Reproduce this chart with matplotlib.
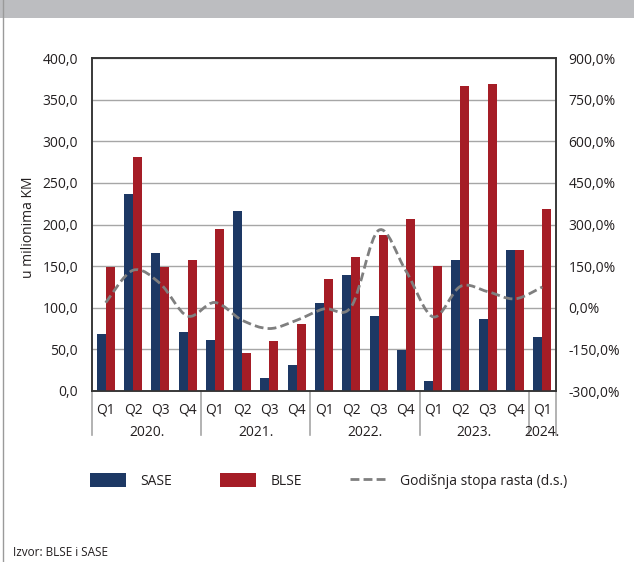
import numpy as np
import matplotlib
matplotlib.use("Agg")
import matplotlib.pyplot as plt
from matplotlib.path import Path
from matplotlib.patches import PathPatch, Patch, Rectangle
from matplotlib.lines import Line2D
from matplotlib.ticker import FuncFormatter, MultipleLocator

plt.rcParams['font.family'] = ['Open Sans', 'DejaVu Sans']

# Data
quarters = ['Q1', 'Q2', 'Q3', 'Q4'] * 4 + ['Q1']
years = ['2020.', '2021.', '2022.', '2023.', '2024.']
year_sizes = [4, 4, 4, 4, 1]
sase = [68.5, 237.0, 166.0, 70.5, 61.5, 216.0, 15.5, 31.0, 105.5,
        139.0, 89.5, 49.0, 11.5, 157.0, 86.0, 169.5, 65.0]
blse = [148.5, 281.5, 148.5, 157.0, 194.5, 45.5, 59.5, 80.5, 134.0,
        160.5, 187.0, 206.5, 150.0, 366.5, 368.5, 169.5, 219.0]
growth = [18, 135, 87, -30, 19, -45, -75, -45, -4, 4, 279, 133, -33, 77, 58, 32, 75]

c_sase = '#1d3864'
c_blse = '#a51d26'
c_line = '#7f7f7f'
c_grid = '#a6a6a6'
c_text = '#231f20'
fs = 10
dash = (0, (3.2, 1.5))

fig = plt.figure(figsize=(6.34, 5.62), dpi=100)
W, H = 634, 562

# top grey band and left border
fig.patches.append(Rectangle((0, 1 - 18 / H), 1, 18 / H, transform=fig.transFigure,
                             facecolor='#bcbdc0', edgecolor='none', zorder=0))
fig.lines.append(Line2D([3 / W, 3 / W], [0, 1], transform=fig.transFigure,
                        color='#9a9a9a', lw=1))

ax = fig.add_axes([92 / W, 1 - 391 / H, (556 - 92) / W, (391 - 58) / H])
ax2 = ax.twinx()

x = np.arange(len(sase))
bw = 0.33
ax.bar(x - bw / 2, sase, bw, color=c_sase, zorder=3)
ax.bar(x + bw / 2, blse, bw, color=c_blse, zorder=3)

ax.set_xlim(-0.5, len(sase) - 0.5)
ax.set_ylim(0, 400)
ax.yaxis.set_major_locator(MultipleLocator(50))
ax.yaxis.set_major_formatter(FuncFormatter(lambda v, p: f'{v:.1f}'.replace('.', ',')))
ax.grid(axis='y', color=c_grid, lw=1, zorder=0)
ax.set_axisbelow(True)
ax.tick_params(axis='y', length=0, pad=10, labelsize=fs, labelcolor=c_text)
ax.set_xticks(x)
ax.set_xticklabels(quarters)
ax.tick_params(axis='x', length=0, pad=8, labelsize=fs, labelcolor=c_text)
fig.text(29 / W, 1 - 227 / H, 'u milionima KM', rotation=90, ha='center',
         va='center', fontsize=fs, color=c_text)

ax2.set_ylim(-300, 900)
ax2.yaxis.set_major_locator(MultipleLocator(150))
ax2.yaxis.set_major_formatter(FuncFormatter(lambda v, p: f'{v:.1f}%'.replace('.', ',')))
ax2.tick_params(axis='y', length=0, pad=9, labelsize=fs, labelcolor=c_text)

for a in (ax, ax2):
    for s in a.spines.values():
        s.set_color('#333333')
        s.set_linewidth(1.1)

# smoothed growth line (cubic Bezier, Excel-style smoothing)
pts = np.column_stack([x, growth]).astype(float)
verts = [pts[0]]
codes = [Path.MOVETO]
n = len(pts)
for i in range(n - 1):
    p0 = pts[i - 1] if i > 0 else pts[i]
    p1, p2 = pts[i], pts[i + 1]
    p3 = pts[i + 2] if i + 2 < n else pts[i + 1]
    verts += [p1 + (p2 - p0) / 6, p2 - (p3 - p1) / 6, p2]
    codes += [Path.CURVE4] * 3
ax2.add_patch(PathPatch(Path(verts, codes), fill=False, edgecolor=c_line,
                        lw=2.0, linestyle=dash, zorder=4))

# year group separators and labels
bounds = np.cumsum([0] + year_sizes) - 0.5
trans = ax.get_xaxis_transform()
for b in bounds:
    ax.plot([b, b], [0, -44 / 333], color=c_grid, lw=1.2, transform=trans,
            clip_on=False)
start = 0
for yr, sz in zip(years, year_sizes):
    ax.text(start + (sz - 1) / 2, -41 / 333, yr, transform=trans, ha='center',
            va='center', fontsize=fs, color=c_text)
    start += sz

# legend
handles = [Patch(facecolor=c_sase, label='SASE'),
           Patch(facecolor=c_blse, label='BLSE'),
           Line2D([], [], color=c_line, lw=2.0, linestyle=dash,
                  label='Godišnja stopa rasta (d.s.)')]
fig.legend(handles=handles, loc='center left', bbox_to_anchor=(90 / W, 1 - 481 / H),
           ncol=3, frameon=False, fontsize=fs, handlelength=2.6,
           handleheight=1.15, handletextpad=1.0, columnspacing=3.5,
           borderaxespad=0, borderpad=0, labelcolor=c_text)

fig.text(13 / W, 1 - 553 / H, 'Izvor: BLSE i SASE', fontsize=8.5, color=c_text,
         va='center', ha='left')

fig.savefig('out.png', dpi=100)
